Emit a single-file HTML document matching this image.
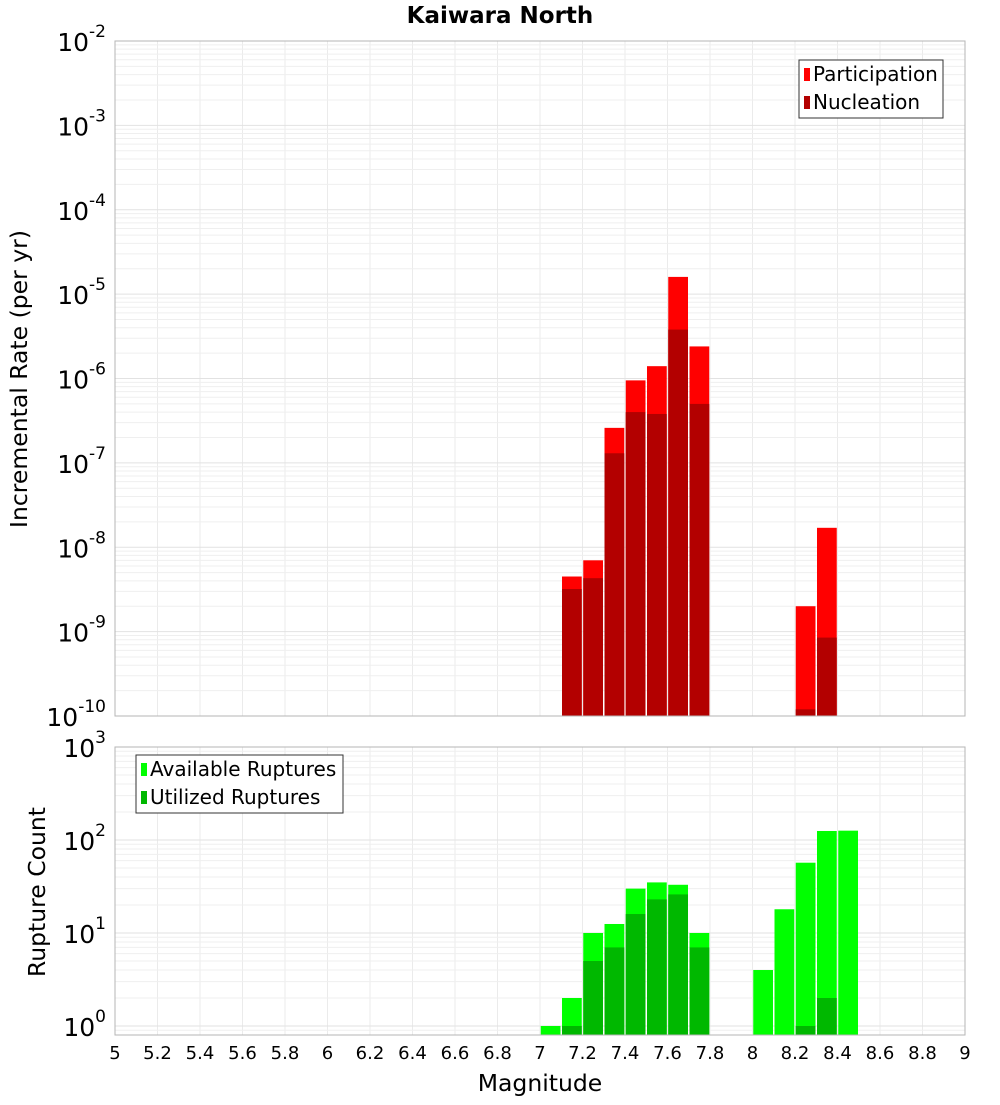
<!DOCTYPE html>
<html><head><meta charset="utf-8"><style>
body{margin:0;background:#fff;font-family:"Liberation Sans","DejaVu Sans",sans-serif}
svg text{font-family:"DejaVu Sans","Liberation Sans",sans-serif}
</style></head><body>
<svg id="c" width="1000" height="1100" xmlns="http://www.w3.org/2000/svg">
<text x="500" y="23" text-anchor="middle" font-size="23" font-weight="bold">Kaiwara North</text>
<text transform="translate(27,379) rotate(-90)" text-anchor="middle" font-size="23.5">Incremental Rate (per yr)</text>
<text transform="translate(45,892) rotate(-90)" text-anchor="middle" font-size="23.5">Rupture Count</text>
<text x="540" y="1091" text-anchor="middle" font-size="23.5">Magnitude</text>
</svg>
<script>
const mags=[7.15,7.25,7.35,7.45,7.55,7.65,7.75,8.25,8.35];
const participation=[4.5e-9,7e-9,2.6e-7,9.5e-7,1.4e-6,1.6e-5,2.4e-6,2e-9,1.7e-8];
const nucleation=[3.2e-9,4.3e-9,1.3e-7,4e-7,3.8e-7,3.8e-6,5e-7,1.2e-10,8.5e-10];
const countMags=[7.05,7.15,7.25,7.35,7.45,7.55,7.65,7.75,8.05,8.15,8.25,8.35,8.45];
const available=[1,2,10,12.5,30,35,33,10,4,18,57,125,126];
const utilized=[0,1,5,7,16,23,26,7,0,0,1,2,0];
const xTicks=[5,5.2,5.4,5.6,5.8,6,6.2,6.4,6.6,6.8,7,7.2,7.4,7.6,7.8,8,8.2,8.4,8.6,8.8,9];
const topExps=[-2,-3,-4,-5,-6,-7,-8,-9,-10];
const botExps=[3,2,1,0];

const svg=document.getElementById('c');const NS='http://www.w3.org/2000/svg';
function el(t,a,p){const e=document.createElementNS(NS,t);for(const k in a)e.setAttribute(k,a[k]);(p||svg).appendChild(e);return e;}
const X0=115,X1=965;
const x=m=>X0+(m-5)/4*(X1-X0);
const T0=41,T1=716;
const yT=v=>T0+(-2-Math.log10(v))/8*(T1-T0);
const B0=747,B1=1035,BD=93;
const yB=v=>B0+(3-Math.log10(v))*BD;
function grid(top,bot,yf,lo,hi){
  for(const t of xTicks){const l=el('line',{x1:x(t),x2:x(t),y1:top,y2:bot,stroke:'#ebebeb','stroke-width':1});
  }
  for(let e=lo;e<hi;e++)for(let k=1;k<10;k++){const yy=yf(k*Math.pow(10,e));if(yy<top||yy>bot)continue;
    const l=el('line',{x1:X0,x2:X1,y1:yy,y2:yy,stroke:k==1?'#e2e2e2':'#efefef','stroke-width':1});
    }
}
grid(T0,T1,yT,-10,-1);
grid(B0,B1,yB,-1,3);
function bar(xm,v,yf,base,fill,name){const w=x(0.1)-x(0)-1.5;const yy=yf(v);
  const r=el('rect',{x:x(xm-0.05)+0.75,y:yy,width:w,height:base-yy,fill:fill});
  }
mags.forEach((m,i)=>{bar(m,participation[i],yT,T1,'#ff0000','participation-bar');});
mags.forEach((m,i)=>{bar(m,nucleation[i],yT,T1,'#b30000','nucleation-bar');});
countMags.forEach((m,i)=>{bar(m,available[i],yB,B1,'#00ff00','available-bar');});
countMags.forEach((m,i)=>{if(utilized[i]>0)bar(m,utilized[i],yB,B1,'#00b800','utilized-bar');});
let f=el('rect',{x:X0,y:T0,width:X1-X0,height:T1-T0,fill:'none',stroke:'#b5b5b5'});

f=el('rect',{x:X0,y:B0,width:X1-X0,height:B1-B0,fill:'none',stroke:'#b5b5b5'});

function ylab(e,yy){const t=el('text',{x:106,y:yy+10,'text-anchor':'end','font-size':25});
  
  t.appendChild(document.createTextNode('10'));const s=el('tspan',{dy:-14,'font-size':17},t);s.textContent=e;}
topExps.forEach(e=>ylab(e,yT(Math.pow(10,e))));
botExps.forEach(e=>ylab(e,yB(Math.pow(10,e))));
xTicks.forEach(t=>{const l=el('text',{x:x(t),y:1059,'text-anchor':'middle','font-size':18});l.textContent=String(t);
  });
function legend(bx,by,w,items){const g=el('g',{});
  el('rect',{x:bx,y:by,width:w,height:58,fill:'#fff',stroke:'#333'},g);
  items.forEach((it,i)=>{const r=el('rect',{x:bx+5,y:by+8+i*28,width:6,height:13,fill:it[1]},g);
    
    const t=el('text',{x:bx+14,y:by+21+i*28,'font-size':20},g);t.textContent=it[0];
    });}
legend(799,60,144,[['Participation','#ff0000'],['Nucleation','#b30000']]);
legend(136,755,207,[['Available Ruptures','#00ff00'],['Utilized Ruptures','#00b800']]);
</script>
</body></html>
